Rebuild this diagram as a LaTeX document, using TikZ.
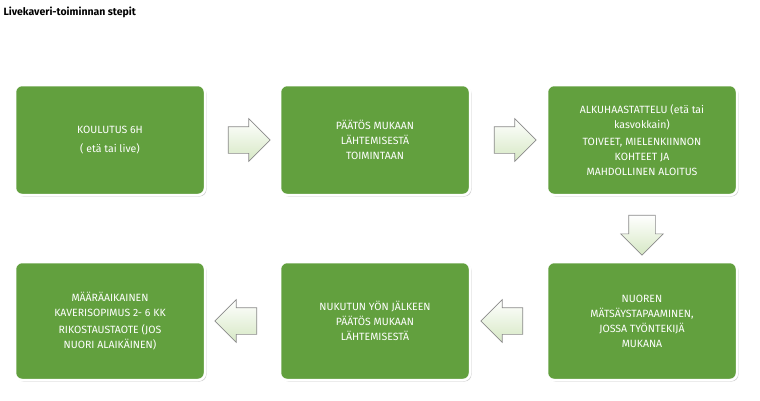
\documentclass[tikz,border=0pt]{standalone}
\usepackage{fontspec}
\setmainfont{Fira Sans}
\usetikzlibrary{shapes.arrows,shadows,calc}
\definecolor{boxgreen}{HTML}{62A03E}
\definecolor{arrfill}{HTML}{D6E8C4}
\definecolor{arrline}{HTML}{8A8A8A}
\tikzset{
  stepbox/.style={draw=white,line width=2.5pt,fill=boxgreen,rounded corners=7pt,
    minimum width=190pt,align=center,text=white,
    font=\fontsize{10.5}{15}\selectfont,drop shadow={shadow xshift=1.5pt,shadow yshift=-1.5pt,opacity=0.35}},
  arr/.style={single arrow,draw=arrline,line width=0.7pt,top color=white,bottom color=arrfill,
    minimum height=42pt,inner sep=13pt,single arrow head extend=8pt}
}
\begin{document}
\begin{tikzpicture}[x=1pt,y=1pt]
\useasboundingbox (0,0) rectangle (760,400);
\node[anchor=west,font=\bfseries\fontsize{10.5}{12}\selectfont] (title) at (0,388) {Livekaveri-toiminnan stepit};
\node[stepbox,minimum height=110pt] (b1) at (110,260) {KOULUTUS 6H\\[4pt]( etä tai live)};
\node[stepbox,minimum height=110pt] (b2) at (375,260) {PÄÄTÖS MUKAAN\\LÄHTEMISESTÄ\\TOIMINTAAN};
\node[stepbox,minimum height=110pt] (b3) at (642,260) {ALKUHAASTATTELU (etä tai\\kasvokkain)\\[2pt]TOIVEET, MIELENKIINNON\\KOHTEET JA\\MAHDOLLINEN ALOITUS};
\node[stepbox,minimum height=118pt] (b6) at (642,79) {NUOREN\\MÄTSÄYSTAPAAMINEN,\\JOSSA TYÖNTEKIJÄ\\MUKANA};
\node[stepbox,minimum height=118pt] (b5) at (375,79) {NUKUTUN YÖN JÄLKEEN\\PÄÄTÖS  MUKAAN\\LÄHTEMISESTÄ};
\node[stepbox,minimum height=118pt] (b4) at (110,79) {MÄÄRÄAIKAINEN\\KAVERISOPIMUS 2- 6 KK\\[2pt]RIKOSTAUSTAOTE (JOS\\NUORI ALAIKÄINEN)};
\node[arr] (a1) at ($(b1.east)!0.5!(b2.west)$) {};
\node[arr] (a2) at ($(b2.east)!0.5!(b3.west)$) {};
\node[arr,shape border rotate=270,minimum height=38pt] (a3) at ($(b3.south)!0.5!(b6.north)$) {};
\node[arr,shape border rotate=180] (a4) at ($(b6.west)!0.5!(b5.east)$) {};
\node[arr,shape border rotate=180] (a5) at ($(b5.west)!0.5!(b4.east)$) {};
\end{tikzpicture}
\end{document}
